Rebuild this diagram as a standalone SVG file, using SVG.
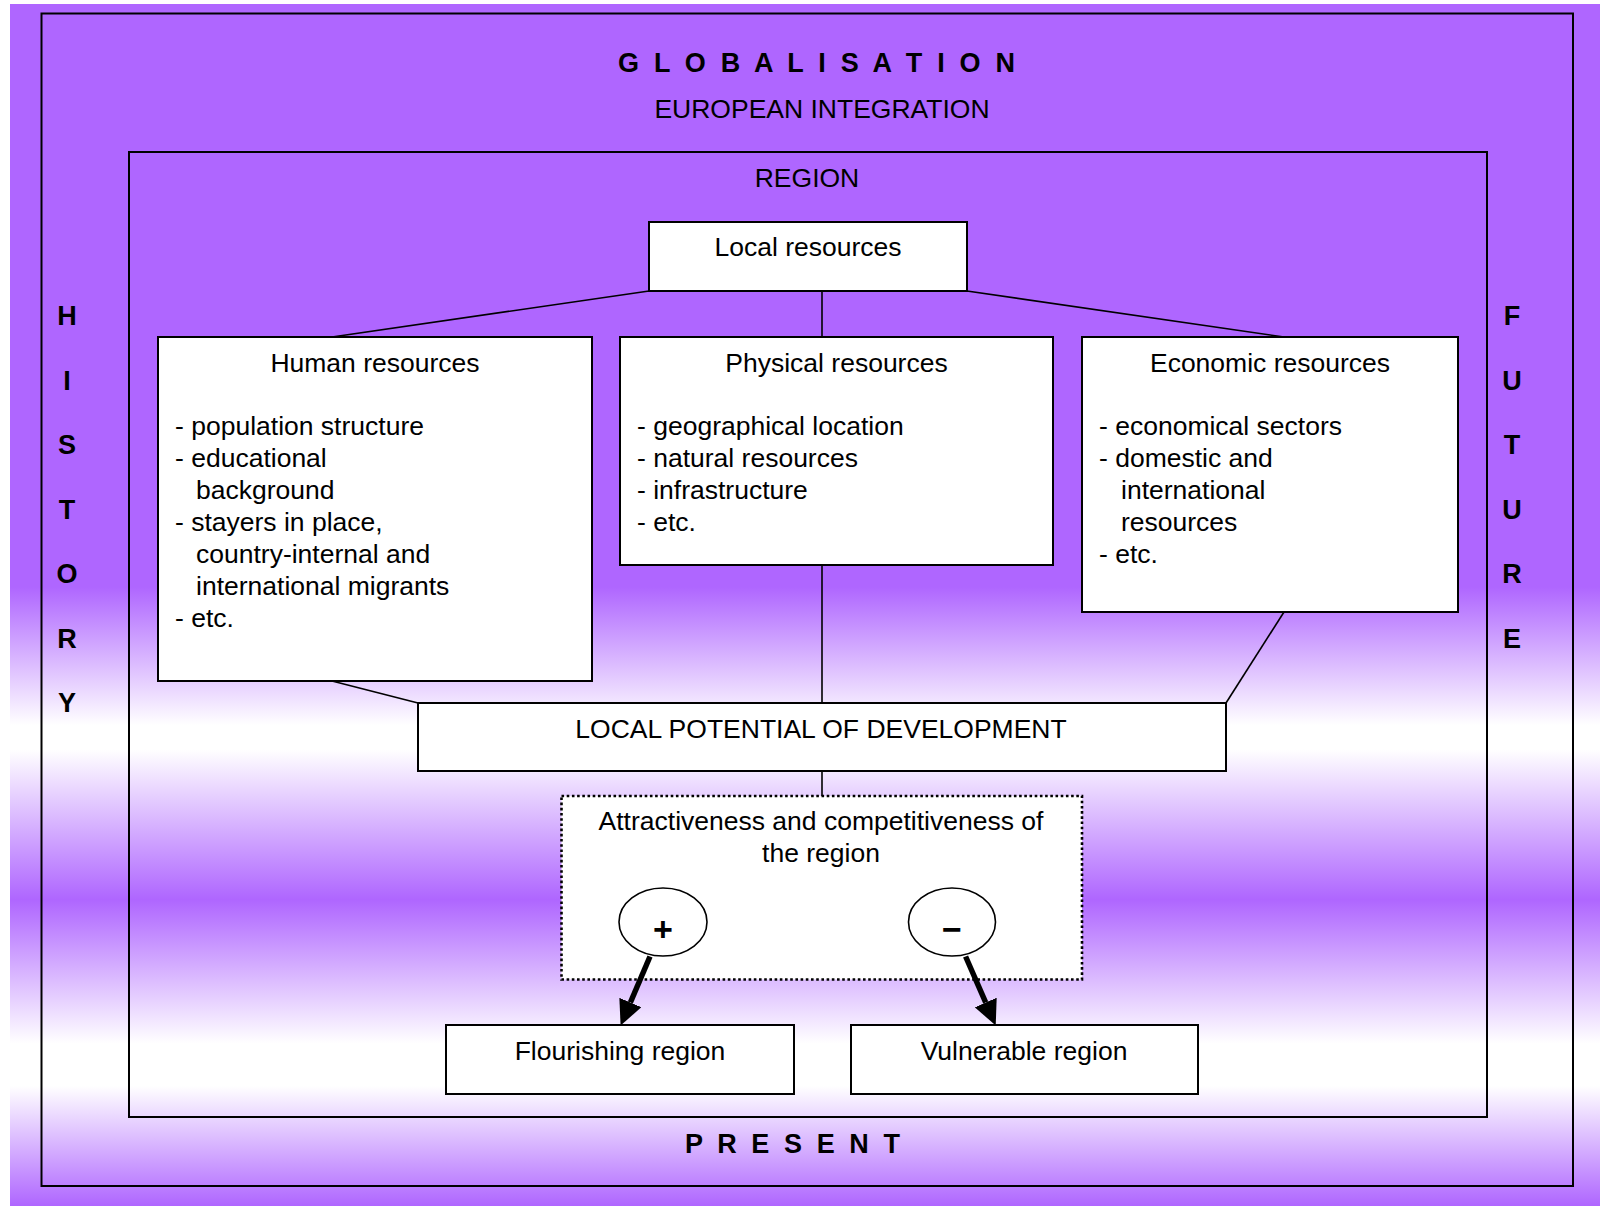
<svg xmlns="http://www.w3.org/2000/svg" width="1600" height="1206" viewBox="0 0 1600 1206">
<defs>
<linearGradient id="bg" gradientUnits="userSpaceOnUse" x1="0" y1="4" x2="0" y2="1206">
<stop offset="0" stop-color="#AF66FF"/>
<stop offset="0.485" stop-color="#AF66FF"/>
<stop offset="0.6" stop-color="#FFFFFF"/>
<stop offset="0.62" stop-color="#FFFFFF"/>
<stop offset="0.745" stop-color="#AF66FF"/>
<stop offset="0.865" stop-color="#FFFFFF"/>
<stop offset="0.9" stop-color="#FFFFFF"/>
<stop offset="1" stop-color="#AF66FF"/>
</linearGradient>
<marker id="head" markerUnits="userSpaceOnUse" markerWidth="26" markerHeight="24" refX="0" refY="12" orient="auto">
<path d="M0,0 L25,12 L0,24 z" fill="#000"/>
</marker>
</defs>
<style>
text{font-family:"Liberation Sans",Arial,sans-serif;font-size:26.5px;fill:#000}
.b{font-weight:bold;font-size:27px}
.c{text-anchor:middle}
.sign{font-weight:bold;font-size:34px}
.box{fill:#fff;stroke:#000;stroke-width:2}
.frame{fill:none;stroke:#000;stroke-width:2}
.ln{stroke:#000;stroke-width:1.6;fill:none}
.arr{stroke:#000;stroke-width:5.5;fill:none}
</style>
<rect x="10" y="4" width="1590" height="1202" fill="url(#bg)"/>

<g id="globalisation">
<rect class="frame" x="41.5" y="13.5" width="1531.5" height="1172.5"/>
<text class="b" x="618" y="72" textLength="397" lengthAdjust="spacing">G L O B A L I S A T I O N</text>
<text class="c" x="822" y="118">EUROPEAN INTEGRATION</text>
</g>
<g id="history">
<text class="b c" x="67" y="325">H</text>
<text class="b c" x="67" y="389.5">I</text>
<text class="b c" x="67" y="454">S</text>
<text class="b c" x="67" y="518.5">T</text>
<text class="b c" x="67" y="583">O</text>
<text class="b c" x="67" y="647.5">R</text>
<text class="b c" x="67" y="712">Y</text>
</g>
<g id="future">
<text class="b c" x="1512" y="325">F</text>
<text class="b c" x="1512" y="389.5">U</text>
<text class="b c" x="1512" y="454">T</text>
<text class="b c" x="1512" y="518.5">U</text>
<text class="b c" x="1512" y="583">R</text>
<text class="b c" x="1512" y="647.5">E</text>
</g>
<g id="present">
<text class="b" x="685" y="1153" textLength="215" lengthAdjust="spacing">P R E S E N T</text>
</g>
<g id="region">
<rect class="frame" x="129" y="152" width="1358" height="965"/>
<text class="c" x="807" y="187">REGION</text>
</g>

<g id="local-resources">
<rect class="box" x="649" y="222" width="318" height="69"/>
<text class="c" x="808" y="256">Local resources</text>
</g>
<g id="human-resources">
<rect class="box" x="158" y="337" width="434" height="344"/>
<text class="c" x="375" y="372">Human resources</text>
<text x="175" y="435">- population structure</text>
<text x="175" y="467">- educational</text>
<text x="196" y="499">background</text>
<text x="175" y="531">- stayers in place,</text>
<text x="196" y="563">country-internal and</text>
<text x="196" y="595">international migrants</text>
<text x="175" y="627">- etc.</text>
</g>
<g id="physical-resources">
<rect class="box" x="620" y="337" width="433" height="228"/>
<text class="c" x="836.5" y="372">Physical resources</text>
<text x="637" y="435">- geographical location</text>
<text x="637" y="467">- natural resources</text>
<text x="637" y="499">- infrastructure</text>
<text x="637" y="531">- etc.</text>
</g>
<g id="economic-resources">
<rect class="box" x="1082" y="337" width="376" height="275"/>
<text class="c" x="1270" y="372">Economic resources</text>
<text x="1099" y="435">- economical sectors</text>
<text x="1099" y="467">- domestic and</text>
<text x="1121" y="499">international</text>
<text x="1121" y="531">resources</text>
<text x="1099" y="563">- etc.</text>
</g>
<g id="local-potential">
<rect class="box" x="418" y="703" width="808" height="68"/>
<text class="c" x="821" y="738">LOCAL POTENTIAL OF DEVELOPMENT</text>
</g>
<g id="attractiveness">
<rect x="561.5" y="796" width="520.5" height="183.5" fill="#fff" stroke="#000" stroke-width="2.6" stroke-dasharray="2.6 2.6"/>
<text class="c" x="821" y="830">Attractiveness and competitiveness of</text>
<text class="c" x="821" y="862">the region</text>
</g>
<g id="plus">
<ellipse cx="663" cy="922" rx="44" ry="34" fill="#fff" stroke="#000" stroke-width="1.6"/>
<text class="sign c" x="663" y="941">+</text>
</g>
<g id="minus">
<ellipse cx="952" cy="922" rx="43.5" ry="34" fill="#fff" stroke="#000" stroke-width="1.6"/>
<text class="sign c" x="952" y="941">−</text>
</g>
<g id="flourishing">
<rect class="box" x="446" y="1025" width="348" height="69"/>
<text class="c" x="620" y="1060">Flourishing region</text>
</g>
<g id="vulnerable">
<rect class="box" x="851" y="1025" width="347" height="69"/>
<text class="c" x="1024" y="1060">Vulnerable region</text>
</g>

<g id="connectors">
<line class="ln" x1="649" y1="291" x2="332" y2="337"/>
<line class="ln" x1="822" y1="291" x2="822" y2="337"/>
<line class="ln" x1="967" y1="291" x2="1284" y2="337"/>
<line class="ln" x1="332" y1="681" x2="418" y2="703"/>
<line class="ln" x1="822" y1="565" x2="822" y2="703"/>
<line class="ln" x1="1284" y1="612" x2="1226" y2="703"/>
<line class="ln" x1="822" y1="771" x2="822" y2="796"/>
<line class="arr" x1="650" y1="956.5" x2="630.4" y2="1002.5" marker-end="url(#head)"/>
<line class="arr" x1="965.6" y1="956.5" x2="985.7" y2="1002.5" marker-end="url(#head)"/>
</g>
</svg>
